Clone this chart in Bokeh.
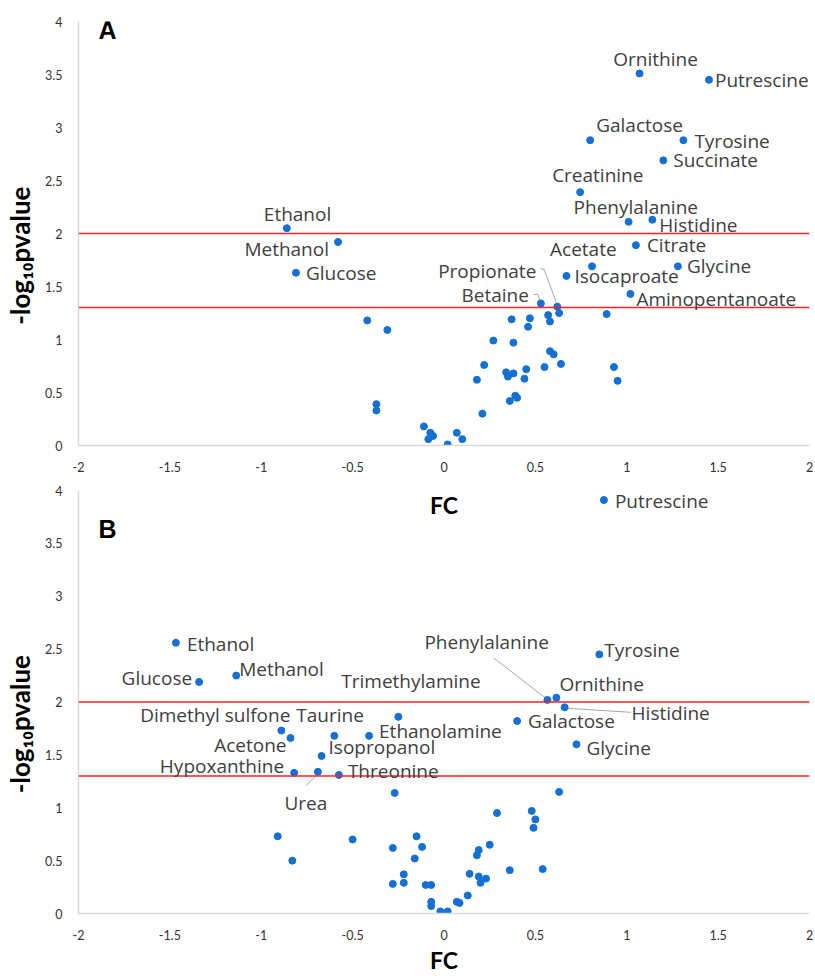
import math
from bokeh.plotting import figure
from bokeh.models import ColumnDataSource, LabelSet, Label, Span, FixedTicker
from bokeh.layouts import column
from bokeh.core.properties import value
from bokeh.embed import file_html
from bokeh.resources import INLINE

# ---------------- data ----------------
x_ticks = [-2, -1.5, -1, -0.5, 0, 0.5, 1, 1.5, 2]
x_tick_labels = ["-2", "-1.5", "-1", "-0.5", "0", "0.5", "1", "1.5", "2"]
y_ticks = [0, 0.5, 1, 1.5, 2, 2.5, 3, 3.5, 4]
y_tick_labels = ["0", "0.5", "1", "1.5", "2", "2.5", "3", "3.5", "4"]
p_thresholds = [0.01, 0.05]

# Panel A – labelled metabolites
names_a = ["Ornithine", "Putrescine", "Galactose", "Tyrosine", "Succinate", "Creatinine",
           "Phenylalanine", "Histidine", "Ethanol", "Methanol", "Glucose", "Citrate",
           "Acetate", "Glycine", "Isocaproate", "Aminopentanoate", "Propionate", "Betaine"]
fc_a = [1.07, 1.45, 0.80, 1.31, 1.20, 0.745, 1.01, 1.14, -0.86, -0.58, -0.81, 1.05,
        0.81, 1.28, 0.67, 1.02, 0.62, 0.53]
logp_a = [3.51, 3.45, 2.88, 2.88, 2.69, 2.39, 2.11, 2.13, 2.05, 1.92, 1.63, 1.89,
          1.69, 1.69, 1.60, 1.43, 1.31, 1.34]
# Panel A – unlabelled metabolites
fc_a_other = [-0.42, -0.31, -0.37, -0.37, 0.63, 0.57, 0.58, 0.37, 0.47, 0.46, 0.89, 0.27,
              0.38, 0.58, 0.60, 0.22, 0.64, 0.55, 0.45, 0.93, 0.34, 0.38, 0.35, 0.18,
              0.44, 0.95, 0.39, 0.40, 0.36, 0.21, -0.11, -0.075, 0.07, -0.06, -0.086,
              0.10, 0.02]
logp_a_other = [1.18, 1.09, 0.39, 0.33, 1.25, 1.23, 1.17, 1.19, 1.20, 1.12, 1.24, 0.99,
                0.97, 0.89, 0.86, 0.76, 0.77, 0.74, 0.72, 0.74, 0.69, 0.68, 0.65, 0.62,
                0.63, 0.61, 0.47, 0.45, 0.42, 0.30, 0.18, 0.12, 0.12, 0.09, 0.06,
                0.06, 0.01]

# Panel B – labelled metabolites
names_b = ["Putrescine", "Ethanol", "Methanol", "Glucose", "Trimethylamine", "Tyrosine",
           "Phenylalanine", "Ornithine", "Histidine", "Galactose", "Glycine",
           "Dimethyl sulfone", "Taurine", "Ethanolamine", "Acetone", "Isopropanol",
           "Hypoxanthine", "Threonine", "Urea"]
fc_b = [0.875, -1.467, -1.137, -1.34, -0.25, 0.85, 0.566, 0.615, 0.66, 0.40, 0.725,
        -0.89, -0.60, -0.41, -0.84, -0.67, -0.82, -0.575, -0.69]
logp_b = [3.91, 2.56, 2.25, 2.19, 1.86, 2.45, 2.02, 2.04, 1.95, 1.82, 1.60,
          1.73, 1.68, 1.68, 1.66, 1.49, 1.33, 1.31, 1.34]
# Panel B – unlabelled metabolites
fc_b_other = [-0.27, -0.91, -0.50, -0.83, -0.28, -0.22, -0.28, -0.22,
              0.63, 0.29, 0.48, 0.50, 0.49, -0.15, -0.12, -0.16, 0.25, 0.19, 0.18,
              0.36, 0.54, 0.14, 0.19, 0.23, 0.20, -0.10, -0.07, 0.13, -0.07, -0.07,
              0.07, 0.085, -0.02, 0.02]
logp_b_other = [1.14, 0.73, 0.70, 0.50, 0.62, 0.37, 0.28, 0.29,
                1.15, 0.95, 0.97, 0.89, 0.81, 0.73, 0.63, 0.52, 0.65, 0.60, 0.55,
                0.41, 0.42, 0.375, 0.35, 0.33, 0.29, 0.27, 0.27, 0.17, 0.11, 0.07,
                0.11, 0.10, 0.02, 0.02]

# ---------------- label placement (screen px: dx right, dy down) ----------------
align_a = ["center", "left", "left", "left", "left", "left", "left", "left", "left", "right",
           "left", "left", "left", "left", "left", "left", "right", "right"]
dx_a = [16, 6, 6, 11, 10, -28, -55, 7, -23, -9, 10, 11, -42, 9, 8, 6, -21, -12]
dy_a = [-7, 7, -8, 8, 7, -10, -8, 12, -7, 14, 7, 7, -10, 7, 7, 12, -29, -1]
leaders_a = {"Propionate": [(-17, -38), (-13, -37), (-1, -4)],
             "Betaine": [(-7, -9), (-3, -9), (-1, -3)]}

align_b = ["left", "left", "left", "right", "left", "left", "left", "left", "left", "left",
           "left", "right", "left", "left", "right", "left", "right", "left", "center"]
dx_b = [11, 11, 3, -7, -57, 5, -123, 3, 67, 11, 10, 9, -38, 10, -4, 7, -10, 9, -12]
dy_b = [8, 8, 0, 3, -29, 3, -51, -7, 13, 7, 11, -9, -14, 2, 14, -2, 0, 3, 38]
leaders_b = {"Phenylalanine": [(-54, -42), (-2, -2)],
             "Histidine": [(2, 1), (66, 5)],
             "Urea": [(-2, 4), (-12, 14)]}

DOT = "#1470D2"
TXT = "#404040"
FRAME_W = 731
# trailing no-break spaces push the rotated y title a little below the frame centre,
# as it sits in the source figure
YTITLE = "-log\u2081\u2080pvalue" + "\u00a0" * 7


def make_panel(letter, names, fc, logp, fc_o, logp_o, aligns, dxs, dys, leaders,
               frame_h, top, bottom, show_xlabel, letter_y):
    p = figure(frame_width=FRAME_W, frame_height=frame_h, x_range=(-2, 2), y_range=(0, 4),
               output_backend="svg", toolbar_location=None,
               min_border_left=78, min_border_right=6, min_border_top=top,
               min_border_bottom=bottom)
    p.outline_line_color = None
    p.xgrid.visible = False
    p.ygrid.visible = False
    for ax in (p.xaxis[0], p.yaxis[0]):
        ax.axis_line_color = "#d9d9d9"
        ax.axis_line_width = 1.5
        ax.major_tick_line_color = None
        ax.minor_tick_line_color = None
        ax.major_label_text_font = "Lato"
        ax.major_label_text_font_size = "12.5px"
        ax.major_label_text_color = "#333333"
        ax.major_label_standoff = 10
        ax.axis_label_text_font = "Lato"
        ax.axis_label_text_font_style = "bold"
        ax.axis_label_text_color = "#000000"
    p.xaxis.ticker = FixedTicker(ticks=x_ticks)
    p.yaxis.ticker = FixedTicker(ticks=y_ticks)
    p.xaxis.major_label_overrides = {t: s for t, s in zip(x_ticks, x_tick_labels)}
    p.yaxis.major_label_overrides = {t: s for t, s in zip(y_ticks, y_tick_labels)}
    p.yaxis.axis_label = YTITLE
    p.yaxis.axis_label_text_font_size = "26px"
    p.yaxis.axis_label_standoff = 6
    if show_xlabel:
        p.xaxis.axis_label = "FC"
        p.xaxis.axis_label_text_font_size = "23px"
        p.xaxis.axis_label_standoff = 3

    for pv in p_thresholds:
        p.add_layout(Span(location=-math.log10(pv), dimension="width",
                          line_color="#ff2020", line_width=1.5))

    sx = FRAME_W / 4.0
    sy = frame_h / 4.0
    xs, ys = [], []
    for n, x0, y0 in zip(names, fc, logp):
        if n in leaders:
            xs.append([x0 + dx / sx for dx, dy in leaders[n]])
            ys.append([y0 - dy / sy for dx, dy in leaders[n]])
    if xs:
        p.multi_line(xs=xs, ys=ys, line_color="#a6a6a6", line_width=1)

    p.scatter(fc_o, logp_o, size=7, color=DOT)
    p.scatter(fc, logp, size=7, color=DOT)

    src = ColumnDataSource(dict(x=fc, y=logp, name=names, align=aligns,
                                xo=dxs, yo=[-d for d in dys]))
    p.add_layout(LabelSet(x="x", y="y", text="name", source=src,
                          x_offset="xo", y_offset="yo", text_align="align",
                          text_baseline=value("alphabetic"), text_font=value("Open Sans"),
                          text_font_size=value("19px"), text_color=value(TXT)))
    p.add_layout(Label(x=-1.89, y=letter_y, text=letter,
                       text_font="Liberation Sans", text_font_style="bold",
                       text_font_size="25px", text_color="#000000"))
    return p


pa = make_panel("A", names_a, fc_a, logp_a, fc_a_other, logp_a_other,
                align_a, dx_a, dy_a, leaders_a, 424, 21, 35, False, 3.79)
pb = make_panel("B", names_b, fc_b, logp_b, fc_b_other, logp_b_other,
                align_b, dx_b, dy_b, leaders_b, 423, 10, 63, True, 3.50)
# x-axis title of panel A sits just below its tick labels (over panel B's top area)
pb.add_layout(Label(x=0, y=3.86, text="FC", text_align="center", text_baseline="middle",
                    text_font="Lato", text_font_style="bold", text_font_size="23px",
                    text_color="#000000"))

layout = column(pa, pb, spacing=0)
open("out.html", "w").write(file_html(layout, INLINE))
